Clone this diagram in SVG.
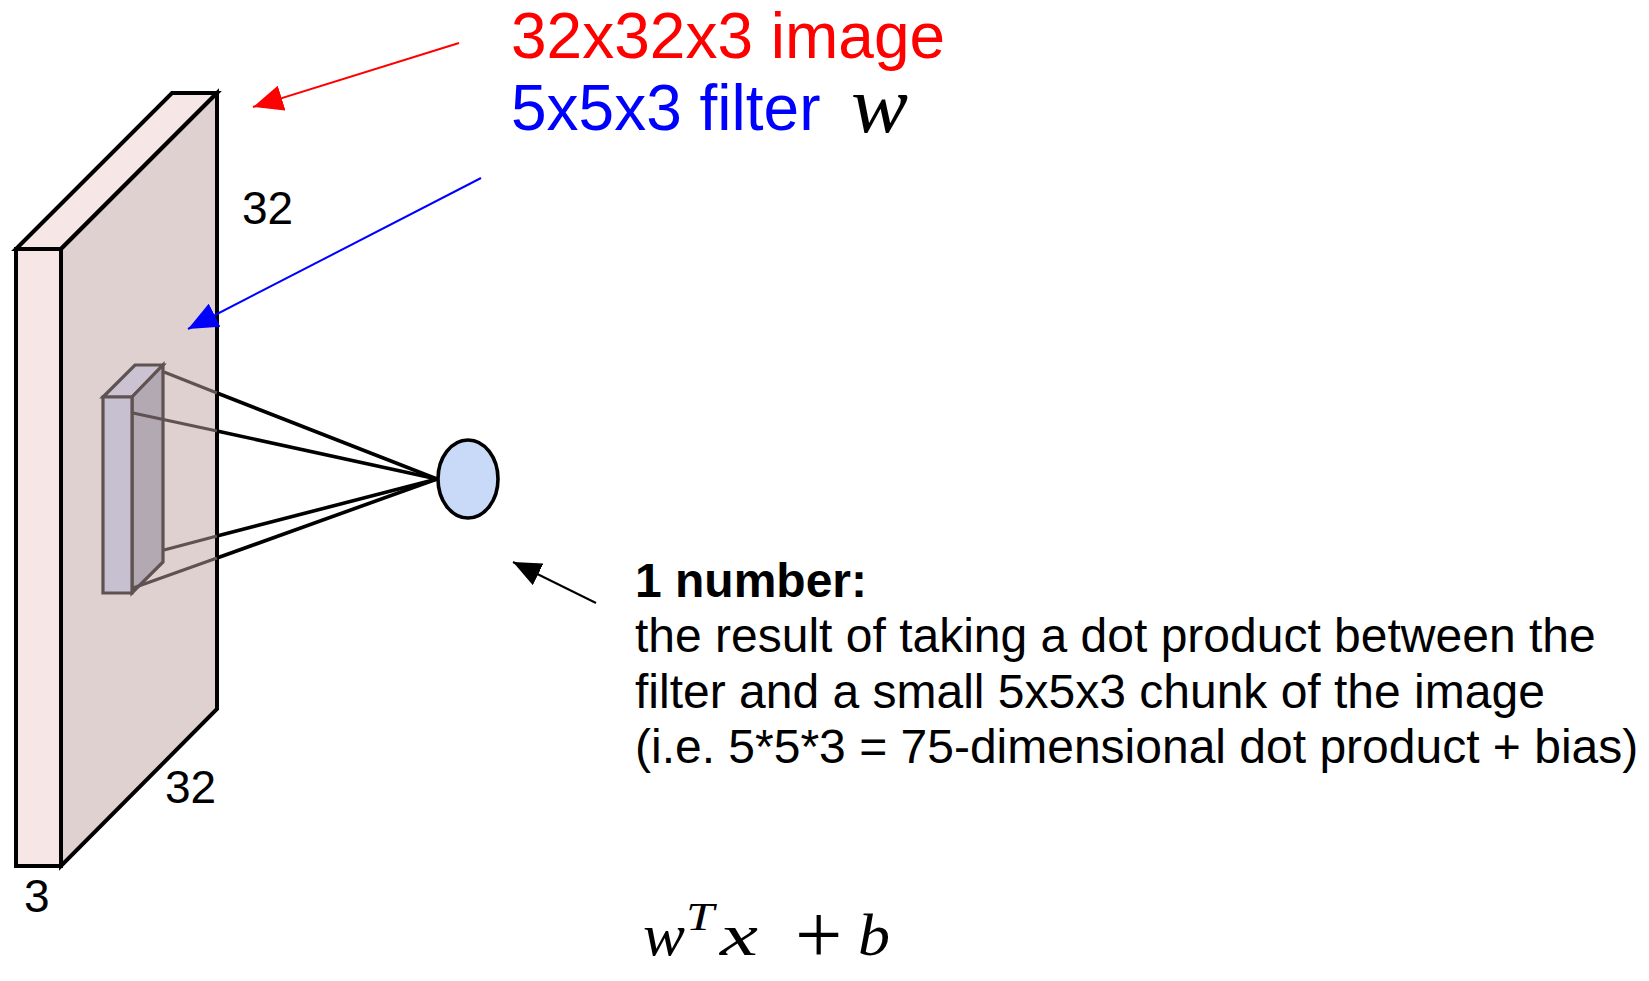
<svg xmlns="http://www.w3.org/2000/svg" width="1649" height="981" viewBox="0 0 1649 981">
<style>
.sans{font-family:"Liberation Sans",Arial,sans-serif}
.math{font-family:"Liberation Serif","Times New Roman",serif;font-style:italic}
.edge{stroke:#000;stroke-width:4;stroke-linejoin:miter}
.fedge{stroke:#5f5252;stroke-width:3.2}
.conn{stroke:#000;stroke-width:3.6;fill:none}
.inner{stroke:#5f5252;stroke-width:3.2;fill:none}
</style>
<defs>
<marker id="arR" markerUnits="userSpaceOnUse" markerWidth="30" markerHeight="26" refX="30" refY="13" orient="auto"><path d="M0,0 L30,13 L0,26 z" fill="#ff0000"/></marker>
<marker id="arB" markerUnits="userSpaceOnUse" markerWidth="30" markerHeight="26" refX="30" refY="13" orient="auto"><path d="M0,0 L30,13 L0,26 z" fill="#0000ff"/></marker>
<marker id="arK" markerUnits="userSpaceOnUse" markerWidth="28" markerHeight="24" refX="28" refY="12" orient="auto"><path d="M0,0 L28,12 L0,24 z" fill="#000"/></marker>
</defs>
<rect width="1649" height="981" fill="#fff"/>
<g id="image-volume">
<polygon class="edge" points="16,249 172,93 217,93 61,249" fill="#f6e6e5"/>
<polygon class="edge" points="16,249 61,249 61,866 16,866" fill="#f6e6e5"/>
<polygon class="edge" points="61,249 217,93 217,709 61,866" fill="#e0d1d1"/>
<text class="sans" x="242" y="224" font-size="46">32</text>
<text class="sans" x="165" y="803" font-size="46">32</text>
<text class="sans" x="24" y="912" font-size="46">3</text>
</g>
<g id="filter">
<polygon class="fedge" points="103,397 135,365 163,365 132,397" fill="#cbc3d2"/>
<polygon class="fedge" points="132,397 163,365 163,562 132,593" fill="#b3a9b3"/>
<polygon class="fedge" points="103,397 132,397 132,593 103,593" fill="#c7c0d1"/>
</g>
<g id="connectors">
<line class="inner" x1="164" y1="372" x2="217" y2="393"/>
<line class="inner" x1="133" y1="413" x2="217" y2="431"/>
<line class="inner" x1="164" y1="550" x2="217" y2="536"/>
<line class="inner" x1="133" y1="588" x2="217" y2="558"/>
<line class="conn" x1="217" y1="393" x2="437" y2="479"/>
<line class="conn" x1="217" y1="431" x2="437" y2="479"/>
<line class="conn" x1="217" y1="536" x2="437" y2="479"/>
<line class="conn" x1="217" y1="558" x2="437" y2="479"/>
<line x1="459" y1="43" x2="253" y2="107" stroke="#ff0000" stroke-width="2" marker-end="url(#arR)"/>
<line x1="481" y1="178" x2="188" y2="329" stroke="#0000ff" stroke-width="2" marker-end="url(#arB)"/>
<line x1="596" y1="603" x2="513" y2="562" stroke="#000" stroke-width="2" marker-end="url(#arK)"/>
</g>
<g id="neuron">
<ellipse cx="468" cy="479" rx="30" ry="39" fill="#c9daf8" stroke="#000" stroke-width="3.6"/>
</g>
<g id="labels">
<text class="sans" x="511" y="58" font-size="64" fill="#ff0000">32x32x3 image</text>
<text class="sans" x="511" y="130" font-size="64" fill="#0000ff">5x5x3 filter</text>
<text class="math" x="851" y="132" font-size="80" textLength="57" lengthAdjust="spacingAndGlyphs">w</text>
<text class="sans" x="635" y="597" font-size="48" font-weight="bold">1 number:</text>
<text class="sans" x="635" y="652" font-size="48">the result of taking a dot product between the</text>
<text class="sans" x="635" y="708" font-size="48">filter and a small 5x5x3 chunk of the image</text>
<text class="sans" x="635" y="763" font-size="48">(i.e. 5*5*3 = 75-dimensional dot product + bias)</text>
<text class="math" x="643" y="955" font-size="60" textLength="42" lengthAdjust="spacingAndGlyphs">w</text>
<text class="math" x="686" y="930" font-size="40" textLength="28" lengthAdjust="spacingAndGlyphs">T</text>
<text class="math" x="720" y="955" font-size="60" textLength="38" lengthAdjust="spacingAndGlyphs">x</text>
<text font-family="Liberation Serif,serif" x="795" y="963" font-size="84">+</text>
<text class="math" x="858" y="955" font-size="60" textLength="32" lengthAdjust="spacingAndGlyphs">b</text>
</g>
</svg>
